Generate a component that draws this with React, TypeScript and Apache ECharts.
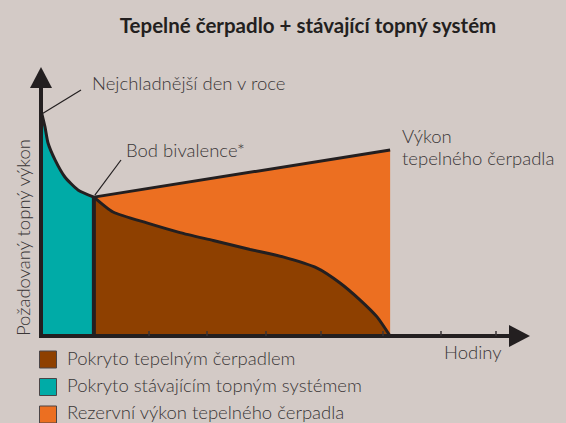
import React, { useEffect, useRef } from "react";
import * as echarts from "echarts";

const chartTitle = "Tepelné čerpadlo + stávající topný systém";
const yAxisTitle = "Požadovaný topný výkon";
const xAxisTitle = "Hodiny";
const coldestLabel = "Nejchladnější den v roce";
const bivalenceLabel = "Bod bivalence*";
const hpLabelLines = ["Výkon", "tepelného čerpadla"];

// x: share of the hours of the year (0–100), y: required heating output (0–100)
const backupX = [0, 0.85, 1.5, 3.0, 5.1, 7.9, 11.3];
const backupY = [91, 84.3, 77.8, 71.0, 64.1, 58.9, 56.0];
const hpCoveredX = [11.3, 15.4, 22.6, 29.7, 36.8, 44.7, 51.7, 59.0, 63.9, 68.2, 71.8, 74.6];
const hpCoveredY = [56.0, 50.0, 45.6, 41.7, 38.5, 34.9, 31.9, 27.4, 21.4, 14.5, 7.7, 0];
const hpCapacityX = [11.3, 74.6];
const hpCapacityY = [56.0, 75.0];
const bivalenceX = [11.3, 11.3];
const bivalenceY = [0, 56.0];
const tickHours = [23.1, 35.5, 48.1, 59.8, 73.1, 85.5, 97.2];

const legendNames = [
  "Pokryto tepelným čerpadlem",
  "Pokryto stávajícím topným systémem",
  "Rezervní výkon tepelného čerpadla",
];
const legendColors = ["#8e4000", "#00aba7", "#ec6f21"];

const BG = "#d3cac6";
const INK = "#231f20";
const TEXT = "#3a3637";
const FONT = "Lato";

const zip = (xs: number[], ys: number[]) => xs.map((x, i) => [x, ys[i]]);

export default function App() {
  const ref = useRef<HTMLDivElement>(null);
  useEffect(() => {
    document.body.style.margin = "0";
    document.body.style.background = BG;
    const chart = echarts.init(ref.current!, null, { renderer: "svg" });
    const curveLine = { color: INK, width: 3 };
    chart.setOption({
      animation: false,
      backgroundColor: BG,
      grid: { left: 41, right: 57, top: 88, bottom: 87 },
      xAxis: {
        type: "value",
        min: 0,
        max: 100,
        z: 10,
        splitLine: { show: false },
        axisLabel: { show: false },
        axisLine: {
          show: true,
          onZero: false,
          symbol: ["none", "triangle"],
          symbolSize: [22, 21],
          symbolOffset: [0, 10.5],
          lineStyle: { color: INK, width: 4, cap: "square" },
        },
        axisTick: {
          show: true,
          inside: true,
          length: 5,
          customValues: tickHours,
          lineStyle: { color: "#3a3536", width: 1.5 },
        },
      },
      yAxis: {
        type: "value",
        min: 0,
        max: 100,
        z: 10,
        splitLine: { show: false },
        axisLabel: { show: false },
        axisTick: { show: false },
        axisLine: {
          show: true,
          onZero: false,
          symbol: ["none", "triangle"],
          symbolSize: [22, 21],
          symbolOffset: [0, 10.5],
          lineStyle: { color: INK, width: 4, cap: "square" },
        },
      },
      series: [
        {
          name: legendNames[2],
          type: "line",
          data: zip(hpCapacityX, hpCapacityY),
          showSymbol: false,
          lineStyle: curveLine,
          areaStyle: { color: legendColors[2], opacity: 1 },
          z: 2,
        },
        {
          name: legendNames[0],
          type: "line",
          data: zip(hpCoveredX, hpCoveredY),
          showSymbol: false,
          smooth: 0.2,
          lineStyle: curveLine,
          areaStyle: { color: legendColors[0], opacity: 1 },
          z: 3,
        },
        {
          name: legendNames[1],
          type: "line",
          data: zip(backupX, backupY),
          showSymbol: false,
          smooth: 0.2,
          lineStyle: curveLine,
          areaStyle: { color: legendColors[1], opacity: 1 },
          z: 4,
        },
        {
          name: "bivalence",
          type: "line",
          data: zip(bivalenceX, bivalenceY),
          showSymbol: false,
          lineStyle: { color: INK, width: 4 },
          z: 5,
        },
      ],
    });

    const px = (x: number, y: number) =>
      chart.convertToPixel({ xAxisIndex: 0, yAxisIndex: 0 }, [x, y]) as number[];
    const coldest = px(backupX[0], backupY[0]);
    const biv = px(bivalenceX[1], bivalenceY[1]);

    const label = (text: string, x: number, y: number, extra: any = {}) => ({
      type: "text",
      x,
      y,
      silent: true,
      style: {
        text,
        fill: TEXT,
        fontFamily: FONT,
        fontSize: 18.5,
        fontWeight: 300,
        textAlign: "left",
        textVerticalAlign: "middle",
        ...extra,
      },
    });

    const graphic: any[] = [
      {
        type: "text",
        x: 308,
        y: 25,
        style: {
          text: chartTitle,
          fill: INK,
          fontFamily: FONT,
          fontSize: 20.5,
          fontWeight: "bold",
          textAlign: "center",
          textVerticalAlign: "middle",
        },
      },
      {
        ...label(yAxisTitle, 23, 237.5, { textAlign: "center" }),
        rotation: Math.PI / 2,
      },
      label(coldestLabel, 92, 83),
      label(bivalenceLabel, 126, 150),
      label(hpLabelLines[0], 402, 136),
      label(hpLabelLines[1], 402, 158),
      label(xAxisTitle, 444, 352),
      {
        type: "line",
        shape: { x1: coldest[0] + 2, y1: coldest[1] + 3, x2: 81, y2: 90 },
        style: { stroke: INK, lineWidth: 1.2 },
        z: 20,
      },
      {
        type: "line",
        shape: { x1: biv[0] + 1, y1: biv[1] - 2, x2: 121, y2: 160 },
        style: { stroke: INK, lineWidth: 1.2 },
        z: 20,
      },
    ];
    legendNames.forEach((name, i) => {
      graphic.push({
        type: "rect",
        shape: { x: 39.5, y: 351 + i * 27.5, width: 17, height: 17 },
        style: { fill: legendColors[i], stroke: "#4a4446", lineWidth: 1 },
      });
      graphic.push(label(name, 67, 357.5 + i * 27.2));
    });
    chart.setOption({ graphic });

    return () => chart.dispose();
  }, []);
  return (
    <div
      ref={ref}
      style={{ position: "fixed", left: 0, top: 0, width: 566, height: 423 }}
    />
  );
}
